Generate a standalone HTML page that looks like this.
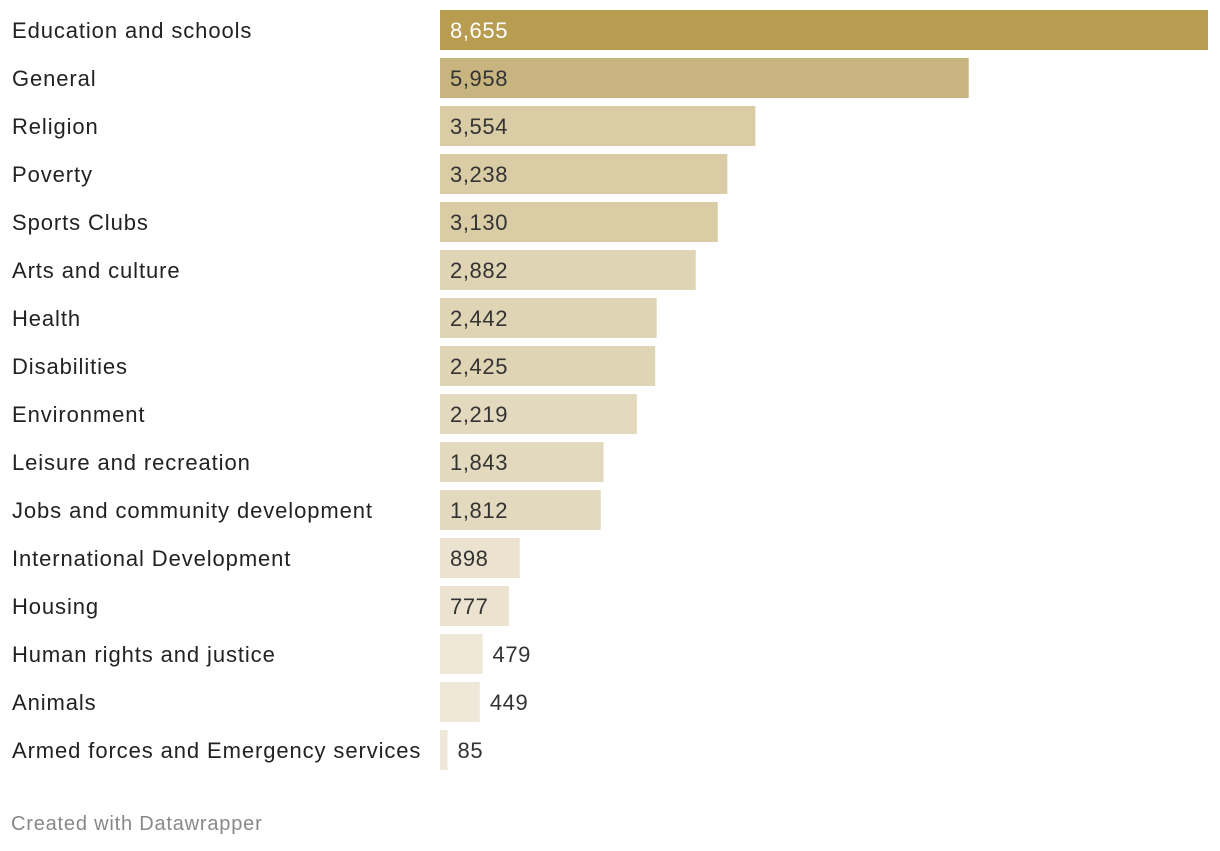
<!DOCTYPE html>
<html><head><meta charset="utf-8"><style>
body{margin:0;width:1220px;height:846px;background:#fff;font-family:"Liberation Sans",sans-serif;overflow:hidden}
</style></head><body>
<svg id="chart" width="1220" height="846" xmlns="http://www.w3.org/2000/svg"></svg>
<script>
const categories=["Education and schools","General","Religion","Poverty","Sports Clubs","Arts and culture","Health","Disabilities","Environment","Leisure and recreation","Jobs and community development","International Development","Housing","Human rights and justice","Animals","Armed forces and Emergency services"];
const values=[8655,5958,3554,3238,3130,2882,2442,2425,2219,1843,1812,898,777,479,449,85];
const barColors=["#b89c50","#c8b47e","#dacca5","#dacca5","#dacca5","#dfd4b3","#dfd4b3","#dfd4b3","#e3d9be","#e3d9be","#e3d9be","#ebe3cf","#ebe3cf","#efe8d8","#efe8d8","#efe8d8"];
const svg=document.getElementById('chart');
const NS="http://www.w3.org/2000/svg";
const x0=440,x1=1208,maxV=Math.max(...values);
const xs=v=>(x1-x0)*v/maxV;
const yRow=i=>10+i*48;
function mk(t,a){const e=document.createElementNS(NS,t);for(const k in a)e.setAttribute(k,a[k]);svg.appendChild(e);return e;}
categories.forEach((c,i)=>{
  const y=yRow(i),w=xs(values[i]);
  const lab=mk('text',{x:12,y:y+28,'font-size':22,'letter-spacing':0.9,fill:'#222'});lab.textContent=c;
  
  
  const r=mk('rect',{x:x0,y:y,width:w,height:40,fill:barColors[i]});
  
  
  const txt=values[i].toLocaleString('en-US');
  const inside=w>60;
  const v=mk('text',{x:inside?x0+10:x0+w+10,y:y+28,'font-size':22,'letter-spacing':0.6,fill:i==0?'#fff':'#333'});
  v.textContent=txt;
  
  
});
const f=mk('text',{x:11,y:830,'font-size':20,'letter-spacing':0.8,fill:'#888'});f.textContent="Created with Datawrapper";


</script>
</body></html>
